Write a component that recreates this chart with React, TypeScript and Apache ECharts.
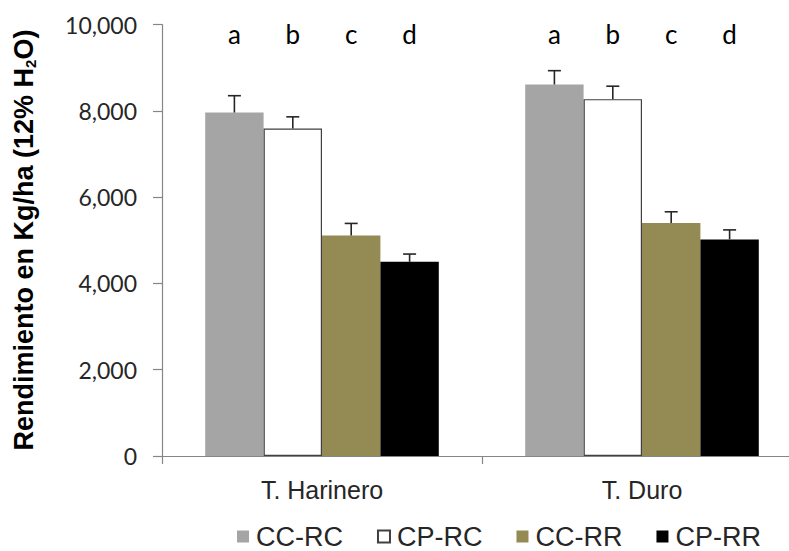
import React, { useEffect, useRef } from "react";
import * as echarts from "echarts";

// Wheat types on the category axis
const categories = ["T. Harinero", "T. Duro"];
// Treatments (one bar each per wheat type)
const treatments = ["CC-RC", "CP-RC", "CC-RR", "CP-RR"];

// Mean yield, kg/ha at 12% moisture
const yieldCCRC = [7960, 8610];
const yieldCPRC = [7590, 8270];
const yieldCCRR = [5110, 5400];
const yieldCPRR = [4500, 5020];

// Standard error (upper whisker)
const errCCRC = [390, 320];
const errCPRC = [270, 300];
const errCCRR = [280, 260];
const errCPRR = [180, 220];

// Significance letters per treatment
const letters = ["a", "b", "c", "d"];

// Y axis range
const yMin = 0;
const yMax = 10000;
const yStep = 2000;

const yields = [yieldCCRC, yieldCPRC, yieldCCRR, yieldCPRR];
const errors = [errCCRC, errCPRC, errCCRR, errCPRR];
const colors = ["#a5a5a5", "#ffffff", "#948a54", "#000000"];

const CAT_GAP = 0.27;
const LETTER_LEVEL = 9780;
const TEXT_FONT = "'Liberation Sans', Arial, sans-serif";
const NUM_FONT = "Lato, 'Liberation Sans', sans-serif";

function barOffset(api: any, s: number) {
  const catW = api.size([1, 0])[0];
  const bw = (catW * (1 - CAT_GAP)) / treatments.length;
  return (s - (treatments.length - 1) / 2) * bw;
}

export default function App() {
  const ref = useRef<HTMLDivElement>(null);

  useEffect(() => {
    if (!ref.current) return;
    const chart = echarts.init(ref.current, null, { renderer: "svg" });

    const barSeries = treatments.map((name, s) => ({
      name,
      type: "bar",
      data: yields[s],
      barGap: "0%",
      barCategoryGap: `${CAT_GAP * 100}%`,
      itemStyle: {
        color: colors[s],
        borderColor: s === 1 ? "#404040" : colors[s],
        borderWidth: s === 1 ? 1.2 : 0,
      },
      z: 2,
    }));

    const errData: number[][] = [];
    const letterData: number[][] = [];
    treatments.forEach((_, s) => {
      categories.forEach((__, c) => {
        errData.push([c, s, yields[s][c], yields[s][c] + errors[s][c]]);
        letterData.push([c, s]);
      });
    });

    const option: any = {
      animation: false,
      grid: {
        left: 162,
        width: 640,
        top: 24.5,
        height: 431.5,
        containLabel: false,
        outerBoundsMode: "none",
      },
      legend: {
        data: treatments,
        left: 237,
        top: 523,
        padding: 0,
        icon: "rect",
        itemWidth: 12,
        itemHeight: 12,
        itemGap: 34,
        textStyle: {
          fontSize: 27,
          fontFamily: TEXT_FONT,
          color: "#262626",
          padding: [0, 0, 0, 2],
        },
      },
      xAxis: {
        type: "category",
        data: categories,
        axisLine: { lineStyle: { color: "#868686", width: 1.2 } },
        axisTick: { show: true, length: 8, lineStyle: { color: "#868686", width: 1.2 } },
        axisLabel: { fontSize: 25, fontFamily: TEXT_FONT, color: "#262626", margin: 21 },
      },
      yAxis: {
        type: "value",
        min: yMin,
        max: yMax,
        interval: yStep,
        splitLine: { show: false },
        axisLine: { show: true, lineStyle: { color: "#868686", width: 1.2 } },
        axisTick: { show: true, length: 9, lineStyle: { color: "#868686", width: 1.2 } },
        axisLabel: {
          fontSize: 23,
          fontFamily: NUM_FONT,
          color: "#262626",
          margin: 25,
          formatter: (v: number) => v.toLocaleString("en-US"),
        },
      },
      graphic: [
        {
          type: "text",
          x: 24,
          y: 240,
          rotation: Math.PI / 2,
          style: {
            text: "Rendimiento en Kg/ha (12% H{sub|2}O)",
            fontSize: 27,
            fontWeight: "bold",
            fontFamily: TEXT_FONT,
            fill: "#000",
            align: "center",
            verticalAlign: "middle",
            rich: {
              sub: {
                fontSize: 15,
                fontWeight: "bold",
                fontFamily: TEXT_FONT,
                fill: "#000",
                padding: [12, 0, 0, 0],
              },
            },
          },
        },
      ],
      series: [
        ...barSeries,
        {
          type: "custom",
          name: "err",
          data: errData,
          encode: { x: 0, y: [2, 3] },
          z: 3,
          renderItem: (params: any, api: any) => {
            const c = api.value(0);
            const s = api.value(1);
            const base = api.coord([c, api.value(2)]);
            const top = api.coord([c, api.value(3)]);
            const x = base[0] + barOffset(api, s);
            const cap = 6.5;
            const st = { stroke: "#262626", lineWidth: 1.6 };
            return {
              type: "group",
              children: [
                { type: "line", shape: { x1: x, y1: base[1], x2: x, y2: top[1] }, style: st },
                { type: "line", shape: { x1: x - cap, y1: top[1], x2: x + cap, y2: top[1] }, style: st },
              ],
            };
          },
        },
        {
          type: "custom",
          name: "letters",
          data: letterData,
          encode: { x: 0, y: 1 },
          z: 3,
          renderItem: (params: any, api: any) => {
            const c = api.value(0);
            const s = api.value(1);
            const p = api.coord([c, LETTER_LEVEL]);
            return {
              type: "text",
              style: {
                text: letters[s],
                x: p[0] + barOffset(api, s),
                y: p[1],
                align: "center",
                verticalAlign: "middle",
                fontSize: 26,
                fontFamily: NUM_FONT,
                fill: "#000",
              },
            };
          },
        },
      ],
    };

    chart.setOption(option);
    return () => chart.dispose();
  }, []);

  return (
    <div
      ref={ref}
      style={{ position: "fixed", left: 0, top: 0, width: 789, height: 551, background: "#fff" }}
    />
  );
}
